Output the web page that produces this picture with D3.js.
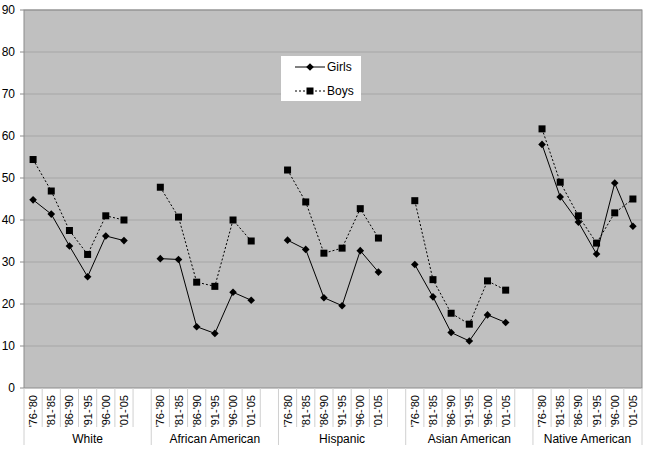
<!DOCTYPE html>
<html>
<head>
<meta charset="utf-8">
<script src="https://cdn.jsdelivr.net/npm/d3@7"></script>
<style>
  body { margin: 0; background: #fff; }
  text { font-family: "Liberation Sans", Arial, sans-serif; fill: #000; }
</style>
</head>
<body>
<div id="chart"></div>
<script>
// data
var groups = ["White", "African American", "Hispanic", "Asian American", "Native American"];
var periods = ["'76-'80", "'81-'85", "'86-'90", "'91-'95", "'96-'00", "'01-'05"];
var girls = [
  [44.8, 41.4, 33.8, 26.5, 36.2, 35.1],
  [30.8, 30.6, 14.6, 13.0, 22.8, 20.9],
  [35.2, 33.0, 21.5, 19.6, 32.7, 27.6],
  [29.4, 21.7, 13.2, 11.2, 17.4, 15.6],
  [58.0, 45.5, 39.5, 31.9, 48.8, 38.5]
];
var boys = [
  [54.4, 46.9, 37.5, 31.8, 41.0, 40.0],
  [47.8, 40.7, 25.2, 24.2, 40.0, 35.0],
  [51.9, 44.3, 32.1, 33.3, 42.7, 35.7],
  [44.6, 25.8, 17.8, 15.2, 25.5, 23.3],
  [61.7, 49.0, 41.0, 34.5, 41.7, 45.0]
];
var yTicks = [0, 10, 20, 30, 40, 50, 60, 70, 80, 90];

var W = 648, H = 451;
var margin = {top: 10, right: 6, bottom: 63, left: 24};
var width = W - margin.left - margin.right,
    height = H - margin.top - margin.bottom;

// category keys: 6 periods per group, a blank slot between groups
var keys = [];
groups.forEach(function(g, gi) {
  periods.forEach(function(p) { keys.push(g + "|" + p); });
  if (gi < groups.length - 1) keys.push("blank" + gi);
});

var x = d3.scaleBand().domain(keys).range([0, width]).padding(0);
var y = d3.scaleLinear().domain([0, 90]).range([height, 0]);

var svg = d3.select("#chart").append("svg")
  .attr("width", W)
  .attr("height", H);

var plot = svg.append("g")
  .attr("transform", "translate(" + margin.left + "," + margin.top + ")");

plot.append("rect")
  .attr("width", width)
  .attr("height", height)
  .attr("fill", "#c0c0c0");

// gridlines
plot.selectAll("line.grid")
  .data(yTicks.slice(1))
  .enter().append("line")
  .attr("class", "grid")
  .attr("x1", 0).attr("x2", width)
  .attr("y1", function(d) { return y(d); })
  .attr("y2", function(d) { return y(d); })
  .attr("stroke", "#a6a6a6")
  .attr("stroke-width", 1);

plot.append("rect")
  .attr("width", width)
  .attr("height", height)
  .attr("fill", "none")
  .attr("stroke", "#8c8c8c");

// y labels
plot.selectAll("text.ylab")
  .data(yTicks)
  .enter().append("text")
  .attr("class", "ylab")
  .attr("x", -9)
  .attr("y", function(d) { return y(d); })
  .attr("dy", "0.35em")
  .attr("text-anchor", "end")
  .style("font-size", "12px")
  .text(function(d) { return d; });

plot.selectAll("line.ytick")
  .data(yTicks)
  .enter().append("line")
  .attr("x1", -4).attr("x2", 0)
  .attr("y1", function(d) { return y(d); })
  .attr("y2", function(d) { return y(d); })
  .attr("stroke", "#8c8c8c");

// category boundaries
var bounds = [];
keys.forEach(function(k, i) { bounds.push({x: x(k), i: i}); });
bounds.push({x: width, i: keys.length});

plot.selectAll("line.ctick")
  .data(bounds)
  .enter().append("line")
  .attr("x1", function(d) { return d.x; })
  .attr("x2", function(d) { return d.x; })
  .attr("y1", height)
  .attr("y2", function(d) {
    var k = keys[d.i];
    var long = d.i == 0 || d.i == keys.length || (k && keys[d.i - 1].indexOf("blank") == 0);
    return height + (long ? 57 : 39);
  })
  .attr("stroke", "#d0d0d0");

// period labels
groups.forEach(function(g) {
  plot.selectAll(null)
    .data(periods)
    .enter().append("text")
    .attr("transform", function(p) {
      return "translate(" + (x(g + "|" + p) + x.bandwidth() / 2 + 4) + "," + (height + 7) + ")rotate(-90)";
    })
    .attr("text-anchor", "end")
    .style("font-size", "11px")
    .text(function(p) { return p; });
});

// group labels
plot.selectAll("text.glab")
  .data(groups)
  .enter().append("text")
  .attr("class", "glab")
  .attr("x", function(g, gi) {
    var x0 = x(g + "|" + periods[0]);
    var x1 = gi < groups.length - 1 ? x("blank" + gi) + x.bandwidth() : width;
    return (x0 + x1) / 2;
  })
  .attr("y", height + 55)
  .attr("text-anchor", "middle")
  .style("font-size", "12px")
  .text(function(g) { return g; });

var line = d3.line()
  .x(function(d) { return x(d.key) + x.bandwidth() / 2; })
  .y(function(d) { return y(d.v); });

function seriesData(vals, g) {
  return periods.map(function(p, i) { return {key: g + "|" + p, v: vals[i]}; });
}

groups.forEach(function(g, gi) {
  var gd = seriesData(girls[gi], g);
  var bd = seriesData(boys[gi], g);

  plot.append("path")
    .datum(bd)
    .attr("d", line)
    .attr("fill", "none")
    .attr("stroke", "#000")
    .attr("stroke-width", 1)
    .attr("stroke-dasharray", "2,2");

  plot.append("path")
    .datum(gd)
    .attr("d", line)
    .attr("fill", "none")
    .attr("stroke", "#000")
    .attr("stroke-width", 1);

  plot.selectAll(null)
    .data(bd)
    .enter().append("rect")
    .attr("x", function(d) { return x(d.key) + x.bandwidth() / 2 - 3.5; })
    .attr("y", function(d) { return y(d.v) - 3.5; })
    .attr("width", 7)
    .attr("height", 7)
    .attr("fill", "#000");

  plot.selectAll(null)
    .data(gd)
    .enter().append("path")
    .attr("d", "M0,-3.8L3.8,0L0,3.8L-3.8,0Z")
    .attr("transform", function(d) {
      return "translate(" + (x(d.key) + x.bandwidth() / 2) + "," + y(d.v) + ")";
    })
    .attr("fill", "#000");
});

// legend
var legend = svg.append("g").attr("transform", "translate(281,56)");
legend.append("rect")
  .attr("width", 80)
  .attr("height", 45)
  .attr("fill", "#fff");

legend.append("line")
  .attr("x1", 14).attr("x2", 44).attr("y1", 11).attr("y2", 11)
  .attr("stroke", "#000");
legend.append("path")
  .attr("d", "M0,-3.8L3.8,0L0,3.8L-3.8,0Z")
  .attr("transform", "translate(29,11)");
legend.append("text")
  .attr("x", 46).attr("y", 11).attr("dy", "0.35em")
  .style("font-size", "12px")
  .text("Girls");

legend.append("line")
  .attr("x1", 14).attr("x2", 44).attr("y1", 35).attr("y2", 35)
  .attr("stroke", "#000")
  .attr("stroke-dasharray", "2,2");
legend.append("rect")
  .attr("x", 25.5).attr("y", 31.5).attr("width", 7).attr("height", 7);
legend.append("text")
  .attr("x", 46).attr("y", 35).attr("dy", "0.35em")
  .style("font-size", "12px")
  .text("Boys");
</script>
</body>
</html>
